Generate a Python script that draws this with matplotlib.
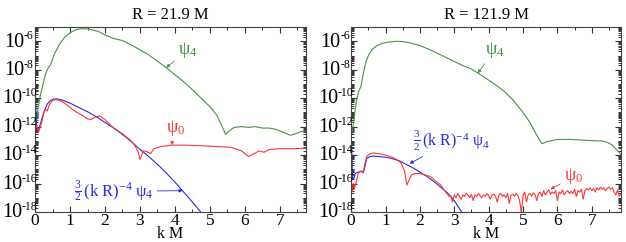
import numpy as np
import matplotlib

matplotlib.use("Agg")
import matplotlib.pyplot as plt
from matplotlib.ticker import FixedLocator, LogLocator, MultipleLocator, NullFormatter

# ---- data (log10 of |amplitude|) ----
titles = ["R = 21.9 M", "R = 121.9 M"]
decades = [-6, -8, -10, -12, -14, -16, -18]

# left panel, R = 21.9 M
psi4_l_k = [0.0, 0.03, 0.08, 0.15, 0.25, 0.3, 0.35, 0.45, 0.55, 0.7, 0.85, 1.0, 1.15, 1.3,
            1.45, 1.6, 1.8, 2.0, 2.25, 2.5, 2.75, 3.0, 3.25, 3.5, 3.75, 4.0, 4.25, 4.5, 4.75,
            5.0, 5.2, 5.35, 5.45, 5.55, 5.7, 5.9, 6.1, 6.3, 6.5, 6.7, 6.9, 7.1, 7.3, 7.45, 7.6, 7.8]
psi4_l_log = [-12.3, -11.8, -10.8, -9.8, -8.8, -8.3, -8.0, -7.6, -6.9, -6.2, -5.7, -5.4, -5.2,
              -5.12, -5.12, -5.18, -5.3, -5.55, -5.8, -5.95, -6.25, -6.6, -6.95, -7.4, -7.85,
              -8.35, -8.85, -9.4, -10.0, -10.6, -11.2, -12.0, -12.55, -12.3, -12.05, -12.0,
              -12.05, -12.0, -12.1, -12.1, -12.2, -12.4, -12.6, -12.5, -12.35, -12.3]

fit_l_k = [0.0, 0.02, 0.04, 0.08, 0.13, 0.2, 0.28, 0.35, 0.45, 0.55, 0.65, 0.8, 1.0, 1.25,
           1.5, 1.75, 2.0, 2.25, 2.5, 2.75, 3.0, 3.25, 3.5, 3.75, 4.0, 4.25, 4.5, 4.75]
fit_l_log = [-8.3, -10.5, -12.0, -12.3, -12.0, -11.4, -10.8, -10.4, -10.15, -10.05, -10.05,
             -10.15, -10.35, -10.65, -10.95, -11.3, -11.7, -12.1, -12.55, -13.05, -13.6,
             -14.1, -14.65, -15.25, -15.9, -16.6, -17.3, -18.05]

psi0_l_k = [0.0, 0.05, 0.1, 0.15, 0.2, 0.25, 0.3, 0.35, 0.4, 0.5, 0.6, 0.75, 0.9, 1.05, 1.2,
            1.35, 1.5, 1.6, 1.7, 1.85, 2.0, 2.2, 2.5, 2.75, 2.85, 2.95, 3.0, 3.05, 3.1, 3.2,
            3.3, 3.4, 3.6, 3.9, 4.3, 4.8, 5.2, 5.6, 5.9, 6.1, 6.3, 6.4, 6.55, 6.7, 7.0, 7.4, 7.8]
psi0_l_log = [-12.3, -11.9, -12.4, -12.0, -11.6, -11.0, -10.8, -10.9, -10.5, -10.15, -10.1,
              -10.2, -10.45, -10.75, -11.0, -11.2, -11.45, -11.5, -11.35, -11.25, -11.5,
              -12.0, -12.5, -13.0, -13.3, -13.8, -14.3, -14.0, -13.7, -13.75, -13.9, -13.55,
              -13.4, -13.3, -13.3, -13.35, -13.4, -13.45, -13.7, -14.1, -13.85, -13.7, -13.8,
              -13.6, -13.55, -13.55, -13.5]

# right panel, R = 121.9 M
psi4_r_k = [0.03, 0.08, 0.15, 0.22, 0.28, 0.35, 0.42, 0.5, 0.6, 0.75, 0.9, 1.1, 1.3, 1.5,
            1.7, 2.0, 2.3, 2.6, 2.9, 3.2, 3.5, 3.8, 4.1, 4.4, 4.7, 5.0, 5.2, 5.4, 5.55, 5.7,
            6.0, 6.4, 6.8, 7.1, 7.3, 7.45, 7.6, 7.75, 7.85]
psi4_r_log = [-12.5, -11.5, -10.2, -9.5, -9.2, -8.3, -7.5, -7.0, -6.6, -6.3, -6.15, -6.05,
              -6.0, -6.02, -6.1, -6.3, -6.6, -6.95, -7.3, -7.65, -7.95, -8.4, -8.9, -9.4,
              -10.1, -11.0, -11.7, -12.6, -13.2, -13.05, -12.9, -12.9, -12.95, -13.0, -13.0,
              -13.1, -13.3, -13.7, -13.95]

fit_r_k = [0.0, 0.02, 0.04, 0.08, 0.12, 0.2, 0.3, 0.35, 0.4, 0.45, 0.55, 0.65, 0.8, 1.0, 1.2,
           1.4, 1.6, 1.8, 2.0, 2.2, 2.4, 2.6, 2.8, 3.0, 3.2, 3.25]
fit_r_log = [-12.3, -14.0, -15.7, -15.6, -15.3, -15.2, -15.15, -15.25, -14.8, -14.25, -14.1,
             -14.07, -14.1, -14.15, -14.25, -14.4, -14.65, -14.9, -15.2, -15.5, -15.85,
             -16.25, -16.65, -17.2, -17.95, -18.1]

psi0_r_k = [0.0, 0.03, 0.06, 0.1, 0.15, 0.2, 0.3, 0.35, 0.4, 0.45, 0.55, 0.65, 0.8, 1.0, 1.2,
            1.35, 1.45, 1.55, 1.62, 1.68, 1.75, 1.85, 2.0, 2.15, 2.3, 2.45, 2.6, 2.75, 2.85]
psi0_r_log = [-16.2, -16.6, -16.0, -16.3, -15.9, -15.3, -15.1, -15.2, -14.6, -14.1, -13.9,
              -13.85, -13.9, -14.0, -14.15, -14.35, -14.55, -15.1, -16.1, -15.8, -15.4,
              -15.3, -15.3, -15.4, -15.5, -15.8, -16.1, -16.6, -16.9]
# noisy floor of psi_0 beyond k M = 2.9 (every 0.05)
psi0_r_floor_log = [
    -16.9, -17.3, -16.8, -17.0, -16.7, -16.9, -17.1, -16.8, -16.9, -16.7,
    -16.8, -17.0, -16.75, -17.2, -16.8, -16.9, -16.7, -16.85, -17.0, -16.8,
    -16.9, -16.7, -16.85, -17.1, -16.8, -16.75, -16.9, -17.3, -16.8, -16.7,
    -16.9, -16.8, -17.0, -16.7, -17.4, -16.8, -16.75, -16.9, -16.7, -16.85,
    -17.2, -18.1, -16.8, -16.6, -17.3, -16.8, -16.7, -16.9, -16.65, -16.8,
    -17.2, -16.7, -16.6, -16.9, -16.5, -16.8, -16.6, -16.45, -16.75, -16.6,
    -16.7, -16.5, -17.2, -16.6, -16.7, -16.45, -16.8, -16.6, -16.5, -16.7,
    -16.55, -16.7, -16.4, -16.9, -16.5, -16.6, -16.4, -17.1, -16.5, -16.35,
    -16.45, -16.3, -16.5, -16.35, -16.6, -16.3, -16.45, -16.25, -16.4, -16.3,
    -16.5, -16.35, -16.25, -16.4, -16.3, -16.6, -16.8, -16.45, -16.9, -16.7,
]
psi0_r_floor_k = np.linspace(2.9, 7.85, len(psi0_r_floor_log))

GREEN = "#449444"
RED = "#ff3535"
BLUE = "#2b2bdc"

plt.rcParams["font.family"] = ["Liberation Serif", "DejaVu Serif"]
plt.rcParams["mathtext.fontset"] = "custom"
plt.rcParams["mathtext.rm"] = "Liberation Serif"
plt.rcParams["mathtext.it"] = "Liberation Serif:italic"
plt.rcParams["mathtext.bf"] = "Liberation Serif:bold"


def style_axes(ax, xmax):
    ax.set_yscale("log")
    ax.set_xlim(0, xmax)
    ax.set_ylim(1e-18, 10 ** -5.0)
    ax.yaxis.set_major_locator(FixedLocator([10.0 ** e for e in decades]))
    ax.yaxis.set_major_formatter(NullFormatter())
    ax.yaxis.set_minor_locator(LogLocator(base=10, subs=np.arange(1, 10), numticks=40))
    ax.yaxis.set_minor_formatter(NullFormatter())
    ax.xaxis.set_major_locator(MultipleLocator(1))
    ax.xaxis.set_minor_locator(MultipleLocator(0.5))
    ax.tick_params(which="both", direction="in", top=True, right=True, color="#333333")
    ax.tick_params(axis="x", labelsize=12.5, pad=1)
    ax.tick_params(which="major", length=4, width=0.8)
    ax.tick_params(which="minor", length=2.2, width=0.7)
    for s in ax.spines.values():
        s.set_linewidth(0.8)
        s.set_color("#444444")
    # "10" with a small raised exponent, as in the original figure
    for e in decades:
        shift = -1.5 if e <= -10 else 0.0
        ax.annotate("10", xy=(0, 10.0 ** e), xycoords=("axes fraction", "data"),
                    xytext=(-8.0 + shift, -0.5), textcoords="offset points",
                    ha="right", va="center", fontsize=14.5, annotation_clip=False)
        ax.annotate(str(e), xy=(0, 10.0 ** e), xycoords=("axes fraction", "data"),
                    xytext=(-8.0 + shift, 3.5), textcoords="offset points",
                    ha="left", va="center", fontsize=8.5, annotation_clip=False)
    # axis title placed by hand so it sits at the very bottom like the original
    mid = (ax.get_position().x0 + ax.get_position().x1) / 2
    ax.figure.text(mid, 0.002, "k M", ha="center", va="bottom", fontsize=11.5)


fig = plt.figure(figsize=(6.26, 2.42), dpi=100)
ax1 = fig.add_axes([0.056, 0.124, 0.433, 0.764])
ax2 = fig.add_axes([0.561, 0.124, 0.431, 0.764])

lw = 0.8
ax1.plot(psi4_l_k, 10 ** np.array(psi4_l_log), color=GREEN, lw=lw)
ax1.plot(fit_l_k, 10 ** np.array(fit_l_log), color=BLUE, lw=lw)
ax1.plot(psi0_l_k, 10 ** np.array(psi0_l_log), color=RED, lw=lw)

ax2.plot(psi4_r_k, 10 ** np.array(psi4_r_log), color=GREEN, lw=lw)
ax2.plot(fit_r_k, 10 ** np.array(fit_r_log), color=BLUE, lw=lw)
ax2.plot(np.concatenate([psi0_r_k, psi0_r_floor_k]),
         10 ** np.array(psi0_r_log + psi0_r_floor_log), color=RED, lw=lw)

style_axes(ax1, 7.75)
style_axes(ax2, 7.85)
ax1.set_title(titles[0], fontsize=12, pad=6)
ax2.set_title(titles[1], fontsize=12, pad=6)

arrow = dict(arrowstyle="-|>", lw=0.6, mutation_scale=5, shrinkA=1, shrinkB=0)
psi4_txt = r"$\mathrm{\psi}_4$"
psi0_txt = r"$\mathrm{\psi}_0$"
fit_txt = r"$\frac{3}{2}\,(\mathrm{k\ R})^{-4}\ \mathrm{\psi}_4$"

# left panel labels
ax1.annotate(psi4_txt, xy=(3.75, 10 ** -7.85), xytext=(4.1, 10 ** -6.6), color=GREEN,
             fontsize=13, ha="left", va="center",
             arrowprops=dict(arrow, color=GREEN))
ax1.annotate(psi0_txt, xy=(3.9, 10 ** -13.3), xytext=(3.75, 10 ** -12.1), color=RED,
             fontsize=13, ha="left", va="center",
             arrowprops=dict(arrow, color=RED))
ax1.annotate(fit_txt, xy=(4.22, 10 ** -16.5), xytext=(1.1, 10 ** -16.55), color=BLUE,
             fontsize=12, ha="left", va="center",
             arrowprops=dict(arrow, color=BLUE))

# right panel labels
ax2.annotate(psi4_txt, xy=(3.68, 10 ** -8.25), xytext=(3.9, 10 ** -6.6), color=GREEN,
             fontsize=13, ha="left", va="center",
             arrowprops=dict(arrow, color=GREEN))
ax2.annotate(fit_txt, xy=(1.7, 10 ** -14.6), xytext=(1.8, 10 ** -13.0), color=BLUE,
             fontsize=11.5, ha="left", va="center",
             arrowprops=dict(arrow, color=BLUE))
ax2.annotate(psi0_txt, xy=(5.8, 10 ** -16.4), xytext=(6.2, 10 ** -15.5), color=RED,
             fontsize=13, ha="left", va="center",
             arrowprops=dict(arrow, color=RED))

fig.savefig("out.png", dpi=100)
